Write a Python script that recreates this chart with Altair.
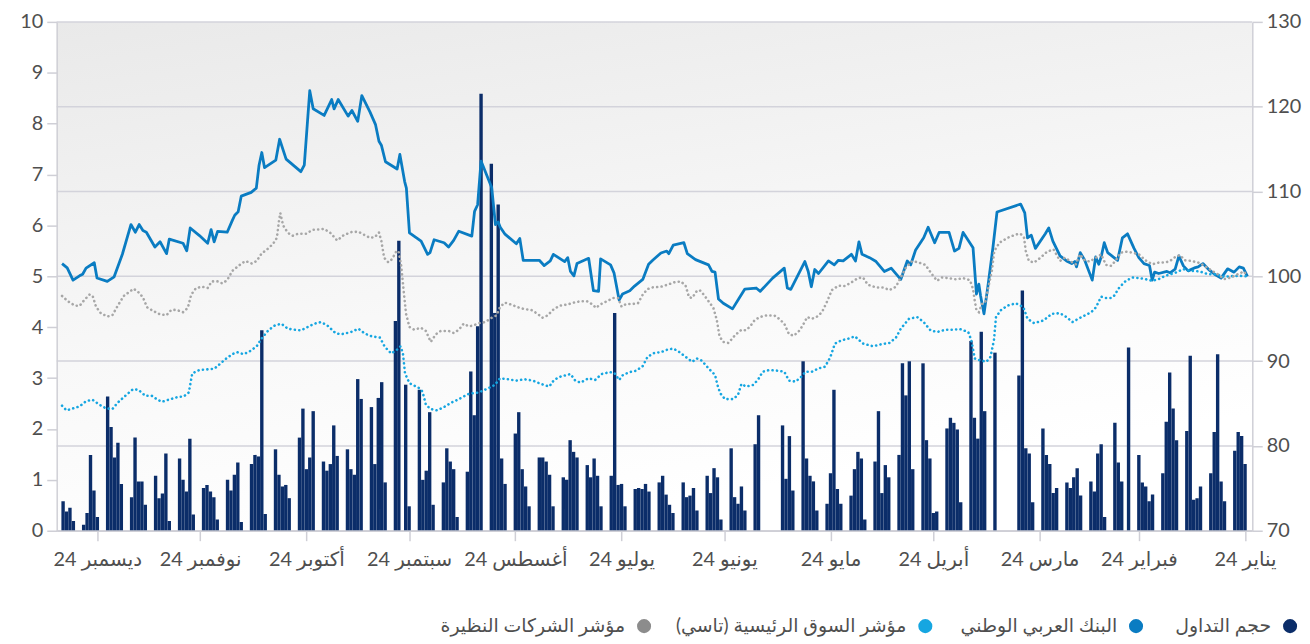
import altair as alt
import pandas as pd

# ---------------- data ----------------
month_names = ["يناير", "فبراير", "مارس", "أبريل", "مايو", "يونيو",
               "يوليو", "أغسطس", "سبتمبر", "أكتوبر", "نوفمبر", "ديسمبر"]
year_suffix = "24"
series_names = ["حجم التداول", "البنك العربي الوطني",
                "مؤشر السوق الرئيسية (تاسي)", "مؤشر الشركات النظيرة"]
left_ticks = list(range(0, 11))
right_ticks = list(range(70, 131, 10))

# trading volume (millions), one value per Sun-Thu trading day, Jan 1 -> Dec 11 2024
volume = [
    1.31, 1.86, 1.94, 1.57,
    0.58, 0.97, 3.47, 1.94, 1.13,
    0.87, 0.64, 0.61, 3.44, 1.96,
    1.78, 2.40, 3.11, 2.14, 1.13,
    0.71, 0.58, 0.87, 0.95, 1.49,
    3.60, None, 0.97, 1.34, 2.12,
    0.27, 1.70, 1.52, 0.77, 0.97,
    0.69, 1.23, 1.05, 0.84, 0.95,
    0.84, 0.74, 1.31, 1.49, 2.01,
    0.56, 1.52, 1.62, 4.72, 3.05,
    None, None, None, None, 3.50,
    2.35, 3.91, 1.81, 2.22, 3.73,
    0.56, 1.99, 2.12, 2.22, 2.01,
    0.38, 0.35, 1.42, 1.78, 3.29,
    1.21, 3.33, 2.66, 3.29, 1.49,
    1.05, 1.29, 0.74, 2.35, 1.36,
    0.22, 1.42, 1.55, 1.21, 0.69,
    0.53, 0.82, 2.77, 1.13, 0.53,
    0.40, 0.97, 1.08, 1.42, 3.33,
    0.79, 1.86, 1.02, 2.07, None,
    None, None, None, 2.27, 1.70,
    0.40, 0.87, 0.53, 0.66, 1.62,
    0.22, 1.05, 1.23, 0.74, 1.08,
    0.40, 0.84, 0.69, 0.66, 0.95,
    0.35, 0.51, 0.71, 1.08, 0.95,
    0.77, 0.92, 0.82, 0.84, 0.82,
    0.48, 0.92, 0.90, 4.28, 1.08,
    0.48, 1.08, 1.42, 1.05, 1.29,
    1.44, 1.55, 1.78, 1.00, 1.05,
    0.48, 1.10, 1.36, 1.44, 1.44,
    0.48, 0.87, 1.21, 2.33, 1.91,
    0.92, 1.42, 6.41, 4.28, 7.21,
    8.59, 4.02, 2.27, 3.13, 1.16,
    0.27, 1.21, 1.36, 1.62, 0.95,
    0.51, 2.33, 1.18, 1.00, 2.77,
    0.48, 2.87, None, 5.70, 4.12,
    0.95, 2.92, 2.61, 1.31, 2.43,
    2.59, 2.98, 1.10, 1.21, 1.60,
    1.47, 2.07, 1.31, 1.18, 1.36,
    2.35, 1.44, 1.21, 2.40, 1.83,
    0.64, 0.90, 0.87, 1.10, 1.60,
    0.33, 3.94, 1.46, 1.49, 1.31,
    0.17, 1.34, 1.10, 0.79, 1.00,
    0.22, 0.66, 0.77, 0.90, 0.84,
    0.32, 1.81, 0.77, 1.00, 1.42,
    0.19, 1.52, 0.73, 0.64, 1.08,
    0.51, 0.97, 0.97, 1.83, 0.66,
    0.92, 1.73, 1.44, 2.04, 2.64,
    0.27, 0.79, 1.49, 0.35, 0.12,
    0.19, 0.45, 0.38, 0.58,
]

# indexed series: (days since 1 Jan 2024, index value)
bank_points = [
    (-0.7, 100.0), (0.5, 100.96), (1.7, 101.11), (3.2, 100.49), (5.1, 100.88), (7.0, 99.79),
    (8.9, 100.25), (10.4, 100.72), (12.3, 101.50), (13.7, 101.11), (14.5, 101.03), (16.6, 100.64),
    (18.0, 101.23), (19.3, 102.40), (20.4, 100.84), (21.9, 100.41), (22.8, 100.57), (25.2, 100.33),
    (26.4, 100.49), (27.1, 99.55), (27.9, 101.27), (29.5, 101.50), (31.0, 102.20), (32.4, 103.29),
    (34.3, 105.01), (35.8, 104.54), (37.2, 101.89), (40.1, 102.79), (41.1, 103.96), (42.0, 102.28),
    (42.7, 101.42), (43.6, 102.28), (44.6, 99.55), (46.8, 101.89), (48.1, 102.79), (49.2, 101.11),
    (49.7, 101.74), (50.6, 101.50), (52.1, 101.81), (54.0, 102.40),
    (56.1, 104.15), (57.3, 105.71), (58.3, 105.01), (61.2, 103.29), (62.4, 104.85), (63.5, 104.54),
    (64.3, 107.47), (65.5, 108.52), (72.4, 107.58), (73.6, 103.37), (75.1, 98.69), (76.2, 95.58),
    (77.2, 97.72), (77.7, 99.08), (78.4, 97.91), (79.4, 103.37), (82.3, 105.17), (83.5, 103.29),
    (84.8, 102.98), (86.4, 105.17), (89.3, 105.17), (90.6, 103.96), (92.5, 105.79), (93.8, 104.54),
    (96.2, 103.06), (97.6, 101.35), (98.6, 101.81), (100.5, 99.63), (103.3, 100.96), (105.3, 100.57),
    (107.7, 101.74), (109.6, 102.20),
    (111.8, 102.59), (112.7, 104.07), (113.7, 101.81), (114.9, 102.59), (117.3, 101.81), (118.7, 101.89),
    (119.9, 101.35), (121.6, 101.81), (124.5, 100.33), (125.6, 100.80), (126.6, 98.77), (127.5, 100.57),
    (128.5, 101.74), (132.6, 98.46), (133.6, 98.62), (134.5, 100.96), (137.9, 99.79), (141.5, 98.23),
    (142.7, 98.62), (146.0, 98.50), (147.5, 97.52), (149.6, 96.16), (152.3, 96.82), (153.7, 97.33),
    (154.7, 100.49), (155.6, 100.57), (156.6, 101.35), (160.4, 101.97), (162.8, 102.67), (163.8, 103.96),
    (166.9, 103.68), (168.2, 102.67), (168.8, 102.98), (170.5, 102.75),
    (172.9, 101.89), (174.1, 101.42), (175.8, 99.63), (178.2, 98.85), (179.6, 98.30), (181.7, 97.91),
    (182.7, 97.21), (184.2, 100.41), (185.2, 101.35), (188.1, 102.05), (188.7, 98.23), (190.2, 98.30),
    (191.6, 102.12), (195.0, 101.50), (195.9, 100.06), (196.9, 100.57), (197.7, 102.20), (198.6, 101.74),
    (201.9, 102.59), (202.8, 101.81), (204.6, 101.27), (206.0, 101.89), (210.7, 101.89), (211.7, 104.46),
    (212.7, 103.84), (216.1, 105.01), (217.4, 105.79), (218.0, 106.41), (218.8, 106.10), (219.9, 110.47),
    (223.0, 113.59), (224.0, 108.44), (224.9, 107.66), (225.7, 104.74), (229.5, 105.32),
    (231.0, 104.23), (232.5, 103.45), (233.8, 103.96), (236.7, 104.31), (237.9, 102.79), (238.6, 102.59),
    (240.5, 104.15), (243.9, 105.13), (244.8, 110.39), (245.3, 111.17), (246.7, 114.37), (247.5, 112.65),
    (250.9, 113.51), (252.1, 115.46), (252.8, 115.93), (253.8, 117.88), (255.4, 119.36), (257.8, 121.31),
    (259.0, 118.27), (260.7, 119.55), (261.8, 118.89), (264.7, 120.84), (265.9, 119.75), (266.6, 120.84),
    (268.8, 118.97), (272.0, 119.75), (273.0, 121.89), (274.6, 113.12), (275.6, 112.34), (279.9, 113.82),
    (281.8, 116.16), (282.9, 113.70), (286.2, 112.81), (287.0, 114.60), (287.8, 113.10), (288.6, 110.40),
    (290.1, 109.90), (293.0, 109.45), (293.9, 107.60), (294.9, 107.20), (295.6, 106.60), (297.1, 105.20),
    (299.9, 105.30), (300.9, 104.07), (301.8, 105.50), (302.8, 103.90), (305.2, 104.80), (307.9, 105.70),
    (308.9, 103.00), (310.0, 103.90), (314.0, 104.39), (314.8, 102.67), (316.7, 104.07), (318.2, 103.45),
    (320.7, 105.20), (321.7, 105.40), (322.8, 106.10), (323.9, 105.20), (325.2, 106.10), (327.7, 102.60),
    (330.1, 99.94), (332.1, 99.40), (335.1, 99.80), (335.9, 101.60), (338.3, 100.96), (339.3, 100.25),
    (340.2, 100.06), (342.1, 99.55), (343.8, 101.00), (345.3, 101.50),
]

tasi_points = [
    (-0.7, 100.0), (1.7, 100.06), (4.1, 100.02), (6.1, 99.94), (8.4, 100.25), (10.8, 100.25),
    (13.2, 100.57), (15.6, 100.64), (18.0, 100.84), (20.4, 100.41), (23.3, 100.06), (25.2, 99.67),
    (27.1, 99.47), (29.1, 99.67), (31.0, 99.79), (32.9, 99.86), (34.8, 99.47), (36.7, 98.69),
    (38.2, 97.72), (39.1, 97.45), (40.6, 97.45), (42.0, 97.60), (43.5, 96.35), (44.9, 95.77),
    (46.8, 95.38), (48.7, 94.99), (50.4, 94.60), (52.1, 95.19), (54.0, 95.65),
    (56.4, 95.58), (58.8, 94.80), (61.6, 94.48), (63.5, 94.99), (64.7, 96.35), (66.9, 96.82),
    (69.3, 96.55), (71.2, 96.04), (72.7, 95.19), (73.3, 92.46), (74.3, 90.51), (75.5, 89.92),
    (77.5, 90.12), (78.9, 90.31), (79.9, 92.46), (80.8, 93.43), (83.2, 93.78), (85.1, 93.70),
    (87.5, 93.70), (89.9, 93.43), (91.8, 93.63), (93.8, 94.60), (95.7, 95.19), (98.1, 94.99),
    (100.5, 93.82), (101.9, 92.77), (103.8, 92.14), (106.2, 91.99), (108.6, 91.75), (111.5, 92.07),
    (113.9, 92.92), (115.8, 92.65), (117.8, 92.46), (119.7, 92.07), (121.1, 90.43), (122.6, 89.34),
    (124.5, 89.14), (126.4, 88.75), (128.3, 88.75), (129.5, 88.17), (131.2, 87.58), (133.1, 87.70),
    (134.5, 88.75), (136.5, 88.87), (138.9, 88.95), (140.8, 88.75), (142.2, 87.78), (143.6, 87.19),
    (145.6, 87.00), (147.0, 87.31), (148.0, 86.02), (149.4, 85.52), (151.8, 85.52), (153.2, 86.22),
    (154.0, 87.19), (154.7, 88.36), (156.6, 89.14), (158.5, 90.04), (160.0, 90.31), (161.4, 89.92),
    (163.3, 90.51), (165.2, 91.09), (166.9, 91.48), (168.6, 91.36), (170.5, 91.05),
    (172.4, 90.97), (174.4, 90.51), (175.8, 89.42), (177.7, 88.87), (179.6, 88.71), (181.6, 88.36),
    (182.7, 87.78), (184.0, 88.56), (185.4, 88.71), (187.8, 88.48), (189.7, 87.78), (191.6, 87.97),
    (194.0, 87.47), (195.5, 87.70), (196.9, 88.48), (199.8, 88.17), (201.7, 87.78), (203.1, 87.00),
    (205.5, 87.31), (207.9, 87.70), (210.3, 87.86), (212.7, 87.70), (215.1, 87.86), (217.5, 87.97),
    (219.0, 87.19), (220.9, 86.80), (223.7, 86.30), (226.6, 86.14), (229.5, 85.52),
    (231.9, 85.05), (233.8, 84.58), (235.8, 84.19), (237.7, 84.35), (239.1, 84.85), (240.1, 86.41),
    (241.0, 86.80), (243.9, 87.39), (245.2, 88.56), (245.8, 90.90), (246.5, 91.75), (247.7, 91.29),
    (249.2, 90.90), (251.1, 91.68), (252.5, 92.77), (254.9, 92.92), (256.9, 93.24), (258.8, 93.82),
    (261.2, 93.39), (264.0, 93.16), (265.5, 93.31), (267.9, 94.21), (269.8, 94.60), (271.7, 94.41),
    (273.6, 94.02), (275.6, 93.63), (277.5, 93.70), (279.4, 93.82), (281.3, 94.41), (283.2, 94.21),
    (285.1, 93.63), (287.1, 92.65), (288.5, 91.75),
    (290.3, 91.21), (292.3, 90.82), (294.2, 91.05), (295.6, 90.82), (297.5, 90.27), (299.5, 89.57),
    (300.9, 89.10), (302.8, 89.03), (305.2, 88.95), (307.3, 88.56), (308.3, 86.30), (309.8, 85.83),
    (311.7, 85.75), (314.3, 85.44), (316.2, 85.20), (317.7, 85.52), (319.1, 85.91), (321.0, 85.91),
    (323.0, 86.61), (324.6, 86.69), (327.3, 85.75), (329.2, 85.05), (330.6, 84.35), (332.5, 84.43),
    (334.5, 84.89), (336.4, 85.44), (338.3, 85.28), (340.2, 84.66), (342.1, 84.43), (344.0, 84.19),
    (345.3, 84.74),
]

peer_points = [
    (-0.7, 100.0), (0.3, 100.57), (1.7, 100.33), (4.1, 99.86), (6.1, 99.67), (8.0, 100.25),
    (9.9, 100.72), (11.8, 101.23), (13.7, 101.62), (15.6, 101.81), (17.6, 101.89), (19.0, 102.51),
    (20.4, 102.28), (21.9, 101.81), (23.3, 101.62), (25.2, 101.62), (27.1, 101.42), (29.1, 101.89),
    (31.0, 102.59), (32.9, 102.79), (34.8, 102.90), (36.3, 102.79), (37.7, 101.89), (39.1, 101.23),
    (40.6, 101.35), (42.0, 102.59), (43.5, 102.20), (45.4, 101.74), (46.8, 101.89), (48.2, 102.59),
    (49.4, 101.42), (51.1, 101.81), (52.6, 102.20), (54.0, 101.81),
    (55.9, 103.18), (57.8, 102.90), (59.7, 102.20), (61.6, 101.62), (63.1, 101.81), (64.0, 102.98),
    (64.5, 104.54), (65.5, 105.01), (66.9, 104.93), (69.3, 104.54), (71.7, 103.96), (73.2, 102.98),
    (73.9, 100.64), (74.9, 98.77), (75.8, 96.94), (76.8, 96.74), (77.7, 95.77), (78.4, 95.97),
    (78.9, 97.13), (79.4, 98.50), (80.3, 99.55), (82.3, 99.79), (84.2, 99.63), (86.6, 99.79),
    (88.5, 99.86), (89.9, 99.47), (91.4, 100.25), (93.3, 101.35), (95.2, 101.62), (97.1, 101.81),
    (99.0, 101.03), (100.5, 99.86), (101.9, 98.77), (103.8, 98.38), (105.7, 98.69), (107.7, 98.69),
    (110.1, 99.01), (111.5, 99.86),
    (113.0, 99.79), (114.9, 99.28), (116.8, 98.85), (118.7, 98.89), (120.6, 98.38), (122.1, 96.94),
    (123.5, 95.77), (124.9, 95.26), (126.4, 94.99), (127.8, 95.19), (129.1, 94.21), (130.2, 93.55),
    (131.7, 93.00), (133.1, 93.16), (134.5, 94.41), (136.0, 94.99), (137.4, 95.38), (139.8, 95.38),
    (141.7, 95.19), (143.2, 94.80), (144.6, 94.02), (145.8, 93.63), (147.0, 93.70), (148.9, 93.04),
    (150.8, 92.14), (152.3, 92.26), (153.4, 92.92), (154.2, 94.87), (155.2, 96.28), (156.6, 97.06),
    (158.0, 97.84), (159.2, 98.38), (160.1, 98.23), (161.4, 97.45), (162.3, 97.53), (163.3, 98.89),
    (164.7, 99.40), (166.7, 99.28), (168.6, 99.01), (170.5, 98.77),
    (172.9, 98.69), (174.4, 98.50), (175.8, 97.84), (177.2, 96.82), (178.7, 96.74), (180.6, 96.74),
    (182.0, 96.43), (183.0, 97.45), (184.4, 97.45), (186.3, 97.06), (188.3, 96.67), (189.4, 96.28),
    (190.7, 96.74), (192.1, 97.06), (194.0, 97.06), (195.9, 96.90), (197.9, 96.67), (199.8, 96.55),
    (201.7, 96.16), (203.6, 95.38), (205.1, 95.11), (206.5, 95.58), (208.4, 96.04), (210.3, 96.12),
    (212.2, 96.35), (214.2, 96.67), (216.1, 96.90), (217.5, 96.35), (218.5, 95.38), (219.9, 95.11),
    (221.8, 94.60), (223.6, 94.48), (225.2, 94.21), (226.6, 94.09), (228.1, 94.41), (229.5, 93.70),
    (231.0, 93.31), (232.4, 93.55), (234.8, 93.55), (236.2, 93.16), (237.7, 92.26), (239.1, 93.55),
    (240.6, 93.94), (242.5, 93.70), (243.9, 94.02), (244.9, 95.58), (245.5, 97.91), (246.3, 101.23),
    (247.1, 102.98), (247.7, 102.98), (249.0, 102.01), (250.1, 101.66), (251.3, 102.20), (252.1, 104.15),
    (252.8, 105.17), (254.0, 104.62), (255.4, 104.54), (256.9, 104.85), (258.8, 105.24), (260.7, 105.24),
    (263.1, 104.85), (265.0, 104.23), (266.9, 105.09), (268.8, 105.59), (270.3, 105.52), (272.2, 105.48),
    (274.1, 105.01), (276.5, 105.01), (278.0, 104.78), (279.4, 105.13), (280.8, 106.02), (281.6, 107.47),
    (282.0, 106.49), (282.6, 104.54), (283.7, 103.84), (285.1, 103.29), (287.1, 102.67), (288.5, 101.81),
    (289.9, 101.50), (291.8, 101.81), (293.7, 101.27), (295.6, 100.64), (297.1, 99.55), (298.5, 99.16),
    (299.9, 99.40), (301.6, 99.40), (302.8, 98.62), (304.4, 98.77), (306.2, 98.62), (307.6, 97.84),
    (308.6, 96.28), (310.0, 95.77), (311.9, 96.04), (313.4, 96.04), (314.8, 95.42), (316.7, 95.50),
    (318.6, 95.89), (320.5, 96.35), (321.7, 97.53), (323.0, 98.11), (324.4, 98.54), (327.3, 97.68),
    (329.2, 96.43), (330.6, 95.42), (332.1, 95.26), (334.0, 95.65), (335.4, 96.43), (336.4, 97.72),
    (337.3, 97.84), (338.8, 97.21), (340.2, 96.51), (341.6, 96.55), (343.6, 97.06), (345.3, 97.68),
]

# ---------------- tables ----------------
START = pd.Timestamp("2024-01-01")
trading_days = pd.bdate_range("2024-01-01", "2024-12-11", freq="C",
                              weekmask="Sun Mon Tue Wed Thu")
n = min(len(trading_days), len(volume))
vol_df = pd.DataFrame({"date": trading_days[:n], "volume": volume[:n]}).dropna()


def line_df(points):
    return pd.DataFrame({
        "date": [START + pd.Timedelta(days=d) for d, _ in points],
        "value": [v for _, v in points],
    })


bank_df = line_df(bank_points)
tasi_df = line_df(tasi_points)
peer_df = line_df(peer_points)

# ---------------- style ----------------
W, H = 1203, 512
FONT = "Lato, 'Noto Sans', 'DejaVu Sans', sans-serif"
AXIS_C = "#cfcfd6"
LABEL_C = "#4f4f4f"
colors = ["#0b2d69", "#0a7cc2", "#16a6e1", "#a7a7a7"]
legend_colors = ["#0b2d69", "#0a7cc2", "#16a6e1", "#8c8c8c"]

month_js = "[" + ",".join("'" + m + "'" for m in month_names) + "]"
x_enc = alt.X(
    "date:T",
    scale=alt.Scale(
        domain=[alt.DateTime(year=2023, month=12, date=31, hours=8),
                alt.DateTime(year=2024, month=12, date=11, hours=10)],
        reverse=True,
    ),
    axis=alt.Axis(
        values=[alt.DateTime(year=2024, month=m, date=1) for m in range(1, 13)],
        labelExpr=month_js + "[month(datum.value)] + ' " + year_suffix + "'",
        title=None, grid=False, tickSize=10, tickColor=AXIS_C, tickWidth=1.5,
        domainColor=AXIS_C, domainWidth=1.5, labelFontSize=20, labelColor=LABEL_C,
        labelFont=FONT, labelPadding=9, labelAngle=0, labelOverlap=False,
        labelFlush=False, zindex=1,
    ),
)

bg = alt.Chart(pd.DataFrame({"k": [0]})).mark_rect(
    fill=alt.LinearGradient(
        gradient="linear",
        stops=[alt.GradientStop(color="#e9e9e9", offset=0),
               alt.GradientStop(color="#f8f8f8", offset=0.6),
               alt.GradientStop(color="#ffffff", offset=1)],
        x1=0, y1=0, x2=0.35, y2=1,
    )
).encode(x=alt.value(0), x2=alt.value(W), y=alt.value(0), y2=alt.value(H))

right_scale = alt.Scale(domain=[70, 130], nice=False, zero=False)

grid = alt.Chart(pd.DataFrame({"v": right_ticks})).mark_rule(
    color="#d3d3db", strokeWidth=1.5
).encode(y=alt.Y("v:Q", scale=right_scale, axis=None))

bars = alt.Chart(vol_df).mark_bar(size=3.4, color=colors[0], clip=True).encode(
    x=x_enc,
    y=alt.Y("volume:Q", scale=alt.Scale(domain=[0, 10], nice=False),
            axis=alt.Axis(orient="left", values=left_ticks, title=None, grid=False,
                          tickSize=10, tickColor=AXIS_C, tickWidth=1.5,
                          domainColor=AXIS_C, domainWidth=1.5, labelFontSize=20,
                          labelColor=LABEL_C, labelFont=FONT, labelPadding=4,
                          labelFlush=False, zindex=1)),
)

y_right = alt.Y("value:Q", scale=right_scale,
                axis=alt.Axis(orient="right", values=right_ticks, title=None, grid=False,
                              tickSize=10, tickColor=AXIS_C, tickWidth=1.5,
                              domainColor=AXIS_C, domainWidth=1.5, labelFontSize=20,
                              labelColor=LABEL_C, labelFont=FONT, labelPadding=4,
                              labelFlush=False, zindex=1))

bank_line = alt.Chart(bank_df).mark_line(
    color=colors[1], strokeWidth=2.8, strokeJoin="round", clip=True
).encode(x=x_enc, y=y_right)
tasi_line = alt.Chart(tasi_df).mark_line(
    color=colors[2], strokeWidth=2.6, strokeDash=[0.1, 4.4], strokeCap="round", clip=True
).encode(x=x_enc, y=y_right)
peer_line = alt.Chart(peer_df).mark_line(
    color=colors[3], strokeWidth=2.6, strokeDash=[0.1, 4.4], strokeCap="round", clip=True
).encode(x=x_enc, y=y_right)

lines = alt.layer(bank_line, tasi_line, peer_line)

# legend (right-to-left), pixel layout relative to the plot origin
legend_dot_x = [1241, 1086, 874, 591]
legend_text_x = [1222, 1067, 855, 572]
legend_y = 608
legend_layers = []
for name, col, dx, tx in zip(series_names, legend_colors, legend_dot_x, legend_text_x):
    one = pd.DataFrame({"label": [name]})
    legend_layers.append(
        alt.Chart(one).mark_point(filled=True, shape="circle", size=200, color=col, opacity=1)
        .encode(x=alt.value(dx), y=alt.value(legend_y))
    )
    legend_layers.append(
        alt.Chart(one).mark_text(text=name, align="right", baseline="middle", fontSize=19,
                                 color="#4f4f4f", font=FONT)
        .encode(x=alt.value(tx), y=alt.value(legend_y))
    )

chart = alt.layer(bg, grid, bars, lines, *legend_layers).resolve_scale(
    y="independent"
).properties(
    width=W, height=H,
    autosize=alt.AutoSizeParams(type="none"),
    padding={"left": 49, "top": 12, "right": 50, "bottom": 112},
    background="#ffffff",
).configure_view(stroke=None)

chart.save("out.html", embed_options={"renderer": "svg", "actions": False})
